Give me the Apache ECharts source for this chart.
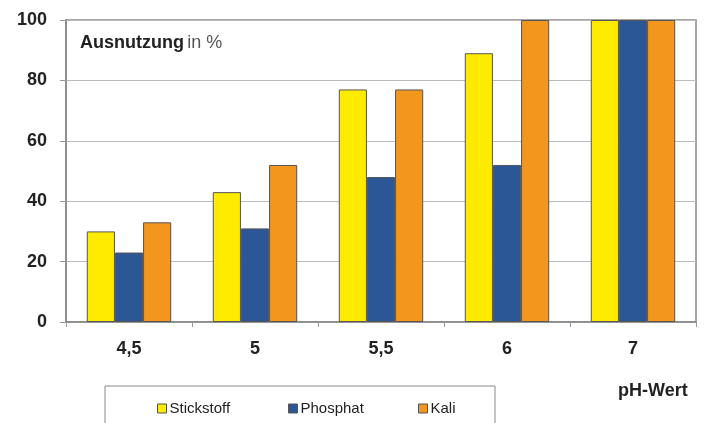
<!DOCTYPE html>
<html><head><meta charset="utf-8">
<script src="https://cdn.jsdelivr.net/npm/echarts@6/dist/echarts.min.js"></script>
<style>html,body{margin:0;padding:0;background:#fff}#c{width:708px;height:423px}</style>
</head><body><div id="c"></div>
<script>
const categories = ['4,5', '5', '5,5', '6', '7'];
const stickstoff = [30, 43, 77, 89, 100];
const phosphat = [23, 31, 48, 52, 100];
const kali = [33, 52, 77, 100, 100];
const yTicks = { min: 0, max: 100, interval: 20 };
const seriesNames = ['Stickstoff', 'Phosphat', 'Kali'];

const chart = echarts.init(document.getElementById('c'), null, { renderer: 'canvas' });
const font = 'Liberation Sans, Arial, sans-serif';
const barBorder = { borderColor: '#555', borderWidth: 1 };
const mk = (name, data, color) => ({
  name, type: 'bar', data, barGap: '0%', barCategoryGap: '33%',
  itemStyle: Object.assign({ color }, barBorder)
});
const legendLefts = [152, 283, 413];
chart.setOption({
  animation: false,
  grid: { left: 66, right: 12, top: 20, bottom: 101, show: true, borderColor: '#888', borderWidth: 1.5, backgroundColor: 'transparent' },
  xAxis: {
    type: 'category', data: categories,
    axisLine: { lineStyle: { color: '#888', width: 1.5 } },
    axisTick: { show: true, length: 5, lineStyle: { color: '#999' } },
    axisLabel: { margin: 18, fontFamily: font, fontWeight: 'bold', fontSize: 18, color: '#222' }
  },
  yAxis: {
    type: 'value', min: yTicks.min, max: yTicks.max, interval: yTicks.interval,
    axisLine: { show: true, lineStyle: { color: '#888', width: 1.5 } },
    axisTick: { show: true, length: 6, lineStyle: { color: '#999' } },
    splitLine: { lineStyle: { color: '#bbb', width: 1 } },
    axisLabel: { margin: 19, fontFamily: font, fontWeight: 'bold', fontSize: 18, color: '#222' }
  },
  legend: seriesNames.map((n, i) => ({
    left: legendLefts[i], top: 396, itemWidth: 9, itemHeight: 9, itemGap: 0,
    icon: 'rect',
    itemStyle: { borderColor: '#555', borderWidth: 1 },
    textStyle: { fontFamily: font, fontSize: 15, color: '#222', padding: [0, 0, 0, -2] },
    data: [n]
  })),
  graphic: [
    { type: 'rect', shape: { x: 105, y: 386, width: 390, height: 60 }, style: { fill: 'none', stroke: '#888', lineWidth: 1 }, z: 0 },
    { type: 'text', left: 80, top: 34, style: {
      text: '{b|Ausnutzung} {n|in %}',
      rich: { b: { fontFamily: font, fontWeight: 'bold', fontSize: 18, fill: '#222' }, n: { fontFamily: font, fontSize: 18, fill: '#555' } }
    } },
    { type: 'text', left: 618, top: 382, style: { text: 'pH-Wert', fontFamily: font, fontWeight: 'bold', fontSize: 18, fill: '#222' } }
  ],
  series: [
    mk(seriesNames[0], stickstoff, '#FFEB00'),
    mk(seriesNames[1], phosphat, '#2B5797'),
    mk(seriesNames[2], kali, '#F3961E')
  ]
});
</script></body></html>
